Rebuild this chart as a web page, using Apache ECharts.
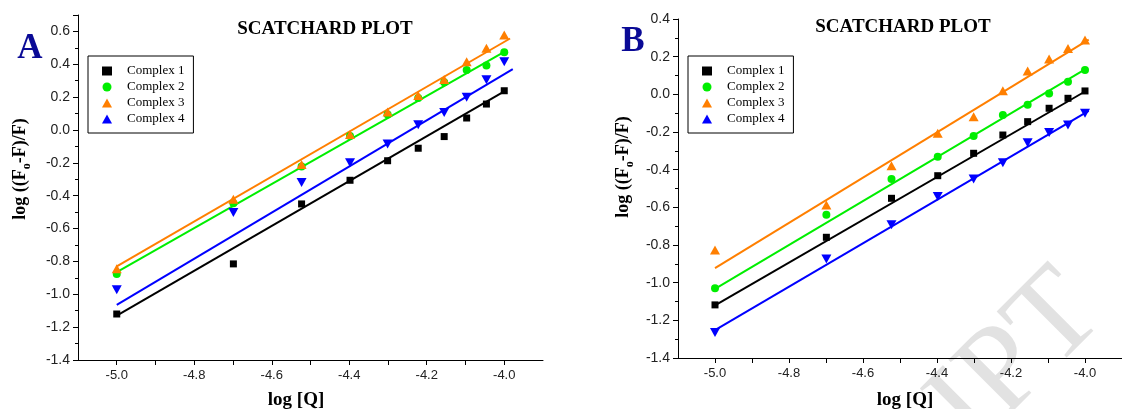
<!DOCTYPE html>
<html>
<head>
<meta charset="utf-8">
<script src="https://cdn.jsdelivr.net/npm/echarts@6/dist/echarts.min.js"></script>
<style>
  html, body { margin: 0; padding: 0; background: #fff; }
  #chart { width: 1122px; height: 409px; }
</style>
</head>
<body>
<div id="chart"></div>
<script>
// log [Q] for the ten quencher concentrations
const logQ = [-5.0, -4.699, -4.523, -4.398, -4.301, -4.222, -4.155, -4.097, -4.046, -4.0];

// Panel A: log((Fo-F)/F)
const complex1A = [-1.12, -0.815, -0.45, -0.306, -0.187, -0.111, -0.04, 0.073, 0.158, 0.239];
const complex2A = [-0.877, -0.446, -0.222, -0.036, 0.095, 0.195, 0.29, 0.365, 0.393, 0.474];
const complex3A = [-0.845, -0.421, -0.21, -0.028, 0.11, 0.21, 0.308, 0.415, 0.497, 0.578];
const complex4A = [-0.973, -0.502, -0.32, -0.199, -0.085, 0.032, 0.107, 0.199, 0.306, 0.415];

// Panel B: log((Fo-F)/F)
const complex1B = [-1.118, -0.759, -0.552, -0.432, -0.313, -0.216, -0.145, -0.074, -0.021, 0.018];
const complex2B = [-1.029, -0.64, -0.449, -0.331, -0.221, -0.11, -0.055, 0.005, 0.067, 0.129];
const complex3B = [-0.826, -0.587, -0.379, -0.207, -0.119, 0.019, 0.124, 0.187, 0.244, 0.288];
const complex4B = [-1.265, -0.874, -0.693, -0.543, -0.449, -0.363, -0.257, -0.202, -0.163, -0.101];

// Linear fit end points [x, y]
const fit1A = [[-5.0, -1.13], [-4.0, 0.235]];
const fit2A = [[-5.0, -0.865], [-4.0, 0.475]];
const fit3A = [[-5.0, -0.83], [-3.985, 0.557]];
const fit4A = [[-5.0, -1.065], [-3.978, 0.37]];
const fit1B = [[-5.0, -1.12], [-4.0, 0.015]];
const fit2B = [[-5.0, -1.033], [-4.0, 0.132]];
const fit3B = [[-5.0, -0.923], [-3.99, 0.29]];
const fit4B = [[-5.0, -1.252], [-3.99, -0.088]];

const seriesNames = ['Complex 1', 'Complex 2', 'Complex 3', 'Complex 4'];
const colors = ['#000000', '#00ee00', '#ff7f00', '#0000ff'];
const symbols = ['rect', 'circle', 'triangle', 'triangle'];
const symbolRotations = [0, 0, 0, 180];
const symbolSizes = [[7, 7], 8, [10, 9], [10, 9]];

const SERIF = '"Liberation Serif", "Times New Roman", serif';
const SANS = '"Liberation Sans", Arial, sans-serif';

function pairs(ys) { return logQ.map((x, i) => [x, ys[i]]); }

function xAxisFor(grid) {
  return {
    type: 'value', gridIndex: grid, min: -5.1, max: -3.9, interval: 0.1,
    axisLine: { show: true, onZero: false, lineStyle: { color: '#000', width: 1 } },
    axisTick: { show: true, inside: false, length: 5, lineStyle: { color: '#000' } },
    axisLabel: {
      margin: 9, color: '#222', fontFamily: SANS, fontSize: 13,
      formatter: v => (Math.round(v * 10) % 2 === 0 ? v.toFixed(1) : ''),
      showMinLabel: false, showMaxLabel: false
    },
    splitLine: { show: false }
  };
}

function yAxisFor(grid, min, max) {
  return {
    type: 'value', gridIndex: grid, min: min, max: max, interval: 0.2,
    axisLine: { show: true, onZero: false, lineStyle: { color: '#000', width: 1 } },
    axisTick: { show: true, inside: false, length: 5, lineStyle: { color: '#000' } },
    minorTick: { show: true, splitNumber: 2, length: 3, lineStyle: { color: '#000' } },
    axisLabel: {
      margin: 8, color: '#222', fontFamily: SANS, fontSize: 14,
      formatter: v => v.toFixed(1),
      showMaxLabel: Math.abs(Math.round(max * 10) % 2) === 0
    },
    splitLine: { show: false },
    minorSplitLine: { show: false }
  };
}

function legendFor(left, top) {
  return {
    orient: 'vertical', left: left, top: top,
    data: seriesNames,
    itemWidth: 10, itemHeight: 9, itemGap: 0,
    padding: [7, 9, 6, 14],
    backgroundColor: '#fff', borderColor: '#000', borderWidth: 1, borderRadius: 0,
    textStyle: { fontFamily: SERIF, fontSize: 13, color: '#000', lineHeight: 16, padding: [0, 0, 0, 10] },
    selectedMode: false
  };
}

const scatterSets = [[complex1A, complex2A, complex3A, complex4A], [complex1B, complex2B, complex3B, complex4B]];
const fitSets = [[fit1A, fit2A, fit3A, fit4A], [fit1B, fit2B, fit3B, fit4B]];

const series = [];
[0, 1].forEach(g => {
  fitSets[g].forEach((pts, i) => {
    series.push({
      name: 'fit ' + seriesNames[i] + (g ? ' B' : ' A'),
      type: 'line', xAxisIndex: g, yAxisIndex: g, data: pts,
      symbol: 'none', silent: true, z: 2,
      lineStyle: { color: colors[i], width: 2 }
    });
  });
  scatterSets[g].forEach((ys, i) => {
    series.push({
      name: seriesNames[i],
      type: 'scatter', xAxisIndex: g, yAxisIndex: g, data: pairs(ys),
      symbol: symbols[i], symbolRotate: symbolRotations[i], symbolSize: symbolSizes[i], z: 3,
      itemStyle: { color: colors[i], opacity: 1 }
    });
  });
});

function yTitle(x, y) {
  return {
    type: 'text', x: x, y: y, rotation: Math.PI / 2, silent: true,
    style: {
      text: '{b|log ((F}{s|o}{b|-F)/F)}',
      align: 'center', verticalAlign: 'middle',
      rich: {
        b: { fontFamily: SERIF, fontWeight: 'bold', fontSize: 18, lineHeight: 26, fill: '#000' },
        s: { fontFamily: SERIF, fontWeight: 'bold', fontSize: 12, lineHeight: 26, verticalAlign: 'bottom', fill: '#000' }
      }
    }
  };
}

function plainText(x, y, text, size, color, align) {
  return {
    type: 'text', x: x, y: y, silent: true,
    style: {
      text: text, fontFamily: SERIF, fontWeight: 'bold', fontSize: size, fill: color,
      align: align || 'center', verticalAlign: 'middle'
    }
  };
}

const option = {
  animation: false,
  backgroundColor: '#fff',
  grid: [
    { left: 78, top: 15, width: 465, height: 345 },
    { left: 678, top: 19, width: 456, height: 339 }
  ],
  xAxis: [xAxisFor(0), xAxisFor(1)],
  yAxis: [yAxisFor(0, -1.4, 0.7), yAxisFor(1, -1.4, 0.4)],
  legend: [legendFor(88, 56), legendFor(688, 56)],
  graphic: [
    // faint manuscript watermark
    {
      type: 'text', x: 1128, y: 338, rotation: Math.PI / 4, silent: true, z: -10,
      style: {
        text: 'ACCEPTED MANUSCRIPT', fontFamily: SERIF, fontSize: 125,
        fill: '#e2e2e2', align: 'right', verticalAlign: 'bottom'
      }
    },
    plainText(325, 29, 'SCATCHARD PLOT', 19, '#000'),
    plainText(903, 27, 'SCATCHARD PLOT', 19, '#000'),
    plainText(30, 49, 'A', 35, '#0a0a96'),
    plainText(633, 42, 'B', 35, '#0a0a96'),
    yTitle(20, 169),
    yTitle(623, 167),
    plainText(296, 400, 'log [Q]', 19, '#000'),
    plainText(905, 400, 'log [Q]', 19, '#000')
  ],
  series: series
};

const chart = echarts.init(document.getElementById('chart'), null, { renderer: 'canvas' });
chart.setOption(option);
</script>
</body>
</html>
